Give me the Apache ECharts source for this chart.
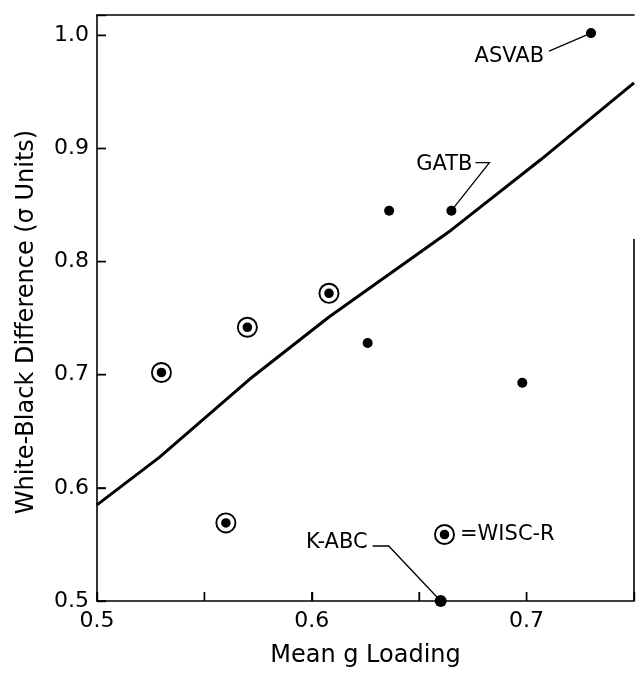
<!DOCTYPE html>
<html>
<head>
<meta charset="utf-8">
<title>White-Black Difference vs Mean g Loading</title>
<script src="https://cdn.jsdelivr.net/npm/echarts@6/dist/echarts.min.js"></script>
<style>
  html, body { margin: 0; padding: 0; background: #fff; }
  #chart { width: 638px; height: 674px; }
</style>
</head>
<body>
<div id="chart"></div>
<script>
// Test batteries: mean g loading vs. white-black difference (sigma units)
const plainLoading = [0.626, 0.636, 0.665, 0.660, 0.698, 0.730];
const plainDiff    = [0.728, 0.845, 0.845, 0.500, 0.693, 1.002];
const plainNames   = ['', '', 'GATB', 'K-ABC', '', 'ASVAB'];

// WISC-R subtests (circled points)
const wiscLoading = [0.530, 0.560, 0.570, 0.608];
const wiscDiff    = [0.702, 0.569, 0.742, 0.772];

// Fitted line through the points
const fitLoading = [0.500, 0.529, 0.571, 0.608, 0.665, 0.7065, 0.750];
const fitDiff    = [0.585, 0.627, 0.696, 0.751, 0.828, 0.890, 0.958];

// Axis ranges, tick steps and tick positions
const xRange = [0.5, 0.75];
const yRange = [0.5, 1.018];
const xStep = 0.05;
const yStep = 0.1;
const xTickValues = [0.5, 0.55, 0.6, 0.65, 0.7, 0.75];
const yTickValues = [0.5, 0.6, 0.7, 0.8, 0.9, 1.0];

const FONT = '"DejaVu Sans", "Liberation Sans", sans-serif';
const TICK_LEN = 9;

// ring with a filled centre, used for the WISC-R marker and its key
const circledDot =
  'path://M0,-10.5A10.5,10.5,0,1,1,0,10.5A10.5,10.5,0,1,1,0,-10.5Z' +
  'M0,-8.6A8.6,8.6,0,1,0,0,8.6A8.6,8.6,0,1,0,0,-8.6Z' +
  'M0,-4.8A4.8,4.8,0,1,1,0,4.8A4.8,4.8,0,1,1,0,-4.8Z';

// leader-line and caption offsets (px) relative to each named point
const callouts = {
  'ASVAB': { path: [[-42, 18], [0, 0]], text: [-47, 23] },
  'GATB':  { path: [[24, -48], [38, -48], [0, 0]], text: [21, -46] },
  'K-ABC': { path: [[-68, -55], [-52, -55], [0, 0]], text: [-73, -58] }
};

const tenthLabel = v => {
  const r = Math.round(v * 10) / 10;
  return Math.abs(v - r) < 1e-6 ? r.toFixed(1) : '';
};

const plainData = plainLoading.map((x, i) => ({
  name: plainNames[i],
  value: [x, plainDiff[i]],
  symbolSize: plainNames[i] === 'K-ABC' ? 12 : 10
}));
const wiscData = wiscLoading.map((x, i) => [x, wiscDiff[i]]);
const fitData = fitLoading.map((x, i) => [x, fitDiff[i]]);
const namedData = plainData.filter(d => d.name).map(d => ({ name: d.name, value: d.value }));

// inward tick marks, each placed on its axis line; the third field says which axis
const tickData = xTickValues.map(v => [v, yRange[0], 0])
  .concat(yTickValues.map(v => [xRange[0], v, 1]));

const axisLine = { show: true, onZero: false, lineStyle: { color: '#000', width: 1.6 } };
const axisTick = { show: true, inside: true, length: TICK_LEN, lineStyle: { color: '#000', width: 1.4 } };

const chart = echarts.init(document.getElementById('chart'), null, { renderer: 'canvas' });

chart.setOption({
  animation: false,
  grid: { left: 97, right: 4, top: 15, bottom: 73 },
  legend: {
    data: [{ name: 'WISC-R', icon: circledDot }],
    left: 429,
    top: 519,
    itemWidth: 21,
    itemHeight: 21,
    formatter: () => '=WISC-R',
    textStyle: { color: '#000', fontFamily: FONT, fontSize: 21 },
    selectedMode: false
  },
  xAxis: [{
    type: 'value',
    min: xRange[0],
    max: xRange[1],
    interval: xStep,
    name: 'Mean g Loading',
    nameLocation: 'middle',
    nameGap: 43,
    nameTextStyle: { color: '#000', fontFamily: FONT, fontSize: 24 },
    axisLine: axisLine,
    axisTick: axisTick,
    axisLabel: { formatter: tenthLabel, color: '#000', fontFamily: FONT, fontSize: 22, margin: 9 },
    splitLine: { show: false }
  }, {
    // top border of the frame
    type: 'value',
    position: 'top',
    min: xRange[0],
    max: xRange[1],
    axisLine: axisLine,
    axisTick: { show: false },
    axisLabel: { show: false },
    splitLine: { show: false }
  }],
  yAxis: {
    type: 'value',
    min: yRange[0],
    max: yRange[1],
    interval: yStep,
    name: 'White-Black Difference (σ Units)',
    nameLocation: 'middle',
    nameGap: 58,
    nameRotate: 90,
    nameTextStyle: { color: '#000', fontFamily: FONT, fontSize: 24, padding: [0, 28, 0, 0] },
    axisLine: axisLine,
    axisTick: axisTick,
    axisLabel: { formatter: tenthLabel, color: '#000', fontFamily: FONT, fontSize: 22, margin: 8 },
    splitLine: { show: false }
  },
  series: [{
    name: 'Ticks',
    type: 'custom',
    data: tickData,
    encode: { x: 0, y: 1 },
    silent: true,
    clip: false,
    zlevel: 1,
    z: 10,
    renderItem: (params, api) => {
      const onLeft = api.value(2) === 1;
      const p = api.coord([api.value(0), api.value(1)]);
      const q = onLeft ? [p[0] + TICK_LEN, p[1]] : [p[0], p[1] - TICK_LEN];
      return {
        type: 'line',
        shape: { x1: p[0], y1: p[1], x2: q[0], y2: q[1] },
        style: { stroke: '#000', lineWidth: 1.4 }
      };
    }
  }, {
    name: 'Fit',
    type: 'line',
    data: fitData,
    symbol: 'none',
    smooth: false,
    lineStyle: { color: '#000', width: 3 },
    z: 2,
    // lower part of the right-hand border
    markLine: {
      silent: true,
      symbol: 'none',
      label: { show: false },
      lineStyle: { color: '#000', width: 1.6, type: 'solid' },
      data: [[{ coord: [xRange[1], yRange[0]] }, { coord: [xRange[1], 0.82] }]]
    }
  }, {
    name: 'Other batteries',
    type: 'scatter',
    data: plainData,
    symbol: 'circle',
    itemStyle: { color: '#000', opacity: 1 },
    clip: false,
    z: 4
  }, {
    name: 'WISC-R',
    type: 'scatter',
    data: wiscData,
    symbol: circledDot,
    symbolSize: 21,
    itemStyle: { color: '#000', opacity: 1 },
    z: 4
  }, {
    name: 'Callouts',
    type: 'custom',
    data: namedData,
    z: 3,
    renderItem: (params, api) => {
      const item = namedData[params.dataIndex];
      const c = callouts[item.name];
      const p = api.coord([api.value(0), api.value(1)]);
      return {
        type: 'group',
        children: [{
          type: 'polyline',
          shape: { points: c.path.map(([dx, dy]) => [p[0] + dx, p[1] + dy]) },
          style: { stroke: '#000', lineWidth: 1.3, fill: null }
        }, {
          type: 'text',
          x: p[0] + c.text[0],
          y: p[1] + c.text[1],
          style: {
            text: item.name,
            fill: '#000',
            font: '21px ' + FONT,
            textAlign: 'right',
            textVerticalAlign: 'middle'
          }
        }]
      };
    }
  }]
});
</script>
</body>
</html>
